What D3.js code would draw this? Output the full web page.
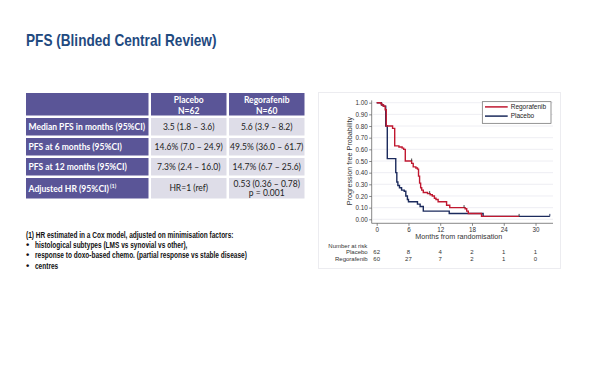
<!DOCTYPE html>
<html>
<head>
<meta charset="utf-8">
<script src="https://cdn.jsdelivr.net/npm/d3@7"></script>
<style>
  body { margin: 0; background: #fff; }
  svg { display: block; }
</style>
</head>
<body>
<svg id="slide" width="600" height="365"></svg>
<script>
// Table content
const tableHeader = [['', ''], ['Placebo', 'N=62'], ['Regorafenib', 'N=60']];
const rowLabels = ['Median PFS in months (95%CI)', 'PFS at 6 months (95%CI)', 'PFS at 12 months (95%CI)', 'Adjusted HR (95%CI)'];
const placeboCells = [['3.5 (1.8 – 3.6)'], ['14.6% (7.0 – 24.9)'], ['7.3% (2.4 – 16.0)'], ['HR=1 (ref)']];
const regoCells = [['5.6 (3.9 – 8.2)'], ['49.5% (36.0 – 61.7)'], ['14.7% (6.7 – 25.6)'], ['0.53 (0.36 – 0.78)', 'p = 0.001']];

// Footnote
const footnotes = [
  '(1) HR estimated in a Cox model, adjusted on minimisation factors:',
  'histological subtypes (LMS vs synovial vs other),',
  'response to doxo-based chemo. (partial response vs stable disease)',
  'centres',
];

// Kaplan-Meier steps [month, survival]
const regorafenib = [
  [0, 1.00], [0.8, 0.99], [1.0, 0.98], [1.3, 0.97], [1.6, 0.94], [1.8, 0.80], [3.0, 0.78],
  [3.4, 0.63], [4.2, 0.62], [4.8, 0.61], [5.1, 0.60], [5.4, 0.50], [6.6, 0.48], [6.9, 0.45],
  [7.4, 0.44], [7.7, 0.43], [7.9, 0.37], [8.1, 0.31], [8.3, 0.27], [8.5, 0.25], [8.8, 0.23],
  [9.6, 0.22], [10.1, 0.21], [10.5, 0.20], [10.9, 0.18], [11.2, 0.17], [11.6, 0.15],
  [13.2, 0.12], [13.8, 0.10], [16.7, 0.09], [17.0, 0.07], [17.3, 0.05], [19.8, 0.025], [26.9, 0.025],
];
const placebo = [
  [0, 1.00], [0.9, 0.98], [1.25, 0.97], [1.7, 0.80], [2.0, 0.52], [3.6, 0.40], [3.8, 0.32],
  [4.0, 0.29], [4.3, 0.27], [4.7, 0.25], [5.2, 0.24], [5.5, 0.20], [5.8, 0.17], [6.0, 0.15],
  [7.7, 0.13], [8.2, 0.11], [8.8, 0.07], [13.7, 0.05], [20.1, 0.025], [32.7, 0.025],
];
const regoCensored = [[6.6, 0.50], [10.0, 0.22], [16.5, 0.10], [26.9, 0.025]];
const placeboCensored = [[32.7, 0.025]];

// Axes and risk table
const monthTicks = [0, 6, 12, 18, 24, 30];
const probTicks = [0, 0.1, 0.2, 0.3, 0.4, 0.5, 0.6, 0.7, 0.8, 0.9, 1.0];
const atRiskPlacebo = [62, 8, 4, 2, 1, 1];
const atRiskRego = [60, 27, 7, 2, 1, 0];

const RED = '#c01830';
const NAVY = '#1b2a5c';
const PURPLE = '#5a5597';
const CELL = '#dedde8';

const svg = d3.select('#slide');

// Squeeze a text horizontally (stand-in for a condensed face)
function squeeze(sel, k) {
  const w = sel.node().getComputedTextLength();
  sel.attr('textLength', w * k).attr('lengthAdjust', 'spacingAndGlyphs');
  return w * k;
}

const narrowFont = '"Liberation Sans", Arial, sans-serif';

// Title
squeeze(svg.append('text')
  .attr('x', 26).attr('y', 46)
  .style('font-family', narrowFont)
  .style('font-weight', 'bold').style('font-size', '17px')
  .attr('fill', '#1f4a80')
  .text('PFS (Blinded Central Review)'), 0.8);

// ---- Table ----
const colX = [26, 151, 229];
const colW = [124, 77, 77];
const rowY = [93, 118, 138, 158, 178];
const rowH = [24, 19, 19, 19, 22];
const tableFont = 'Lato, "Open Sans", sans-serif';
const tk = 0.945;

const table = svg.append('g');
rowY.forEach(function(y, r) {
  colX.forEach(function(x, c) {
    const isDark = r === 0 || c === 0;
    table.append('rect')
      .attr('x', x).attr('y', y)
      .attr('width', colW[c] - 1.5).attr('height', rowH[r] - 1.5)
      .attr('fill', isDark ? PURPLE : CELL);
  });
});

// Header text
tableHeader.forEach(function(lines, c) {
  lines.forEach(function(t, i) {
    if (!t) return;
    squeeze(table.append('text')
      .attr('x', colX[c] + (colW[c] - 1.5) / 2)
      .attr('y', rowY[0] + 10 + i * 10.5)
      .attr('text-anchor', 'middle')
      .style('font-family', tableFont).style('font-weight', 'bold').style('font-size', '9px')
      .attr('fill', '#fff')
      .text(t), tk);
  });
});

// Row labels
rowLabels.forEach(function(t, r) {
  const label = table.append('text')
    .attr('x', 28.5)
    .attr('y', rowY[r + 1] + rowH[r + 1] / 2 + 2.5)
    .style('font-family', tableFont).style('font-weight', 'bold').style('font-size', '9px')
    .attr('fill', '#fff')
    .text(t);
  if (r === 3) {
    label.style('font-size', '8.6px');
    label.append('tspan').attr('dx', 1).attr('dy', -3.5).style('font-size', '5.5px').text('(1)');
  } else {
    squeeze(label, tk);
  }
});

// Data cells
[placeboCells, regoCells].forEach(function(col, ci) {
  const c = ci + 1;
  col.forEach(function(lines, r) {
    const cy = rowY[r + 1] + (rowH[r + 1] - 1.5) / 2;
    lines.forEach(function(t, i) {
      squeeze(table.append('text')
        .attr('x', colX[c] + (colW[c] - 1.5) / 2)
        .attr('y', cy + 3 + (i - (lines.length - 1) / 2) * 9.5)
        .attr('text-anchor', 'middle')
        .style('font-family', tableFont).style('font-size', '9px')
        .attr('fill', '#222')
        .text(t), tk);
    });
  });
});

// ---- Footnote ----
const foot = svg.append('g')
  .style('font-family', narrowFont)
  .style('font-weight', 'bold').style('font-size', '9.4px')
  .attr('fill', '#111');
footnotes.forEach(function(t, i) {
  const y = 237.8 + i * 10.3;
  if (i === 0) {
    squeeze(foot.append('text').attr('x', 26).attr('y', y).text(t), 0.695);
  } else {
    foot.append('text').attr('x', 26).attr('y', y).text('•');
    squeeze(foot.append('text').attr('x', 35).attr('y', y).text(t), 0.695);
  }
});

// ---- KM chart ----
const chartFont = '"Liberation Sans", Arial, sans-serif';
const chart = svg.append('g').style('font-family', chartFont);

// Outer frame
chart.append('rect')
  .attr('x', 318.5).attr('y', 92.5).attr('width', 242).attr('height', 176)
  .attr('fill', 'none').attr('stroke', '#ececf0').attr('stroke-width', 1);

const x = d3.scaleLinear().domain([0, 33.3]).range([376.7, 553]);
const y = d3.scaleLinear().domain([0, 1]).range([219.3, 102.7]);

// Grid lines
chart.append('g').selectAll('line')
  .data(probTicks)
  .join('line')
  .attr('x1', 373).attr('x2', 553)
  .attr('y1', function(d) { return y(d); })
  .attr('y2', function(d) { return y(d); })
  .attr('stroke', '#eaeaf0').attr('stroke-width', 0.8);

// Y axis
const yAxis = chart.append('g')
  .attr('transform', 'translate(371.7,0)')
  .call(d3.axisLeft(y).tickValues(probTicks).tickFormat(d3.format('.2f')).tickSize(2.5).tickPadding(1.5));
yAxis.select('.domain').attr('d', 'M0,' + y(1.02) + 'V223.3');

// X axis
const xAxis = chart.append('g')
  .attr('transform', 'translate(0,223.3)')
  .call(d3.axisBottom(x).tickValues(monthTicks).tickSize(2.5).tickPadding(2));
xAxis.select('.domain').attr('d', 'M371.7,0H553');

[yAxis, xAxis].forEach(function(ax) {
  ax.selectAll('.domain').attr('stroke', '#555').attr('stroke-width', 0.7);
  ax.selectAll('.tick line').attr('stroke', '#555').attr('stroke-width', 0.7);
  ax.selectAll('.tick text')
    .style('font-family', chartFont).style('font-size', '6.3px').attr('fill', '#333');
});

// Axis titles
chart.append('text')
  .attr('transform', 'translate(352,161) rotate(-90)')
  .attr('text-anchor', 'middle')
  .style('font-size', '7.2px').attr('fill', '#333')
  .text('Progression free Probability');
chart.append('text')
  .attr('x', x(15.5)).attr('y', 239)
  .attr('text-anchor', 'middle')
  .style('font-size', '7.2px').attr('fill', '#333')
  .text('Months from randomisation');

// Curves
const line = d3.line()
  .x(function(d) { return x(d[0]); })
  .y(function(d) { return y(d[1]); })
  .curve(d3.curveStepAfter);

chart.append('path').datum(placebo)
  .attr('d', line).attr('fill', 'none').attr('stroke', NAVY).attr('stroke-width', 1.4);
chart.append('path').datum(regorafenib)
  .attr('d', line).attr('fill', 'none').attr('stroke', RED).attr('stroke-width', 1.4);

// Censor marks
[[regoCensored, '#333'], [placeboCensored, NAVY]].forEach(function(pair) {
  chart.append('g').selectAll('line')
    .data(pair[0])
    .join('line')
    .attr('x1', function(d) { return x(d[0]); })
    .attr('x2', function(d) { return x(d[0]); })
    .attr('y1', function(d) { return y(d[1]) - 2.5; })
    .attr('y2', function(d) { return y(d[1]); })
    .attr('stroke', pair[1]).attr('stroke-width', 0.9);
});

// Legend
const legend = chart.append('g');
legend.append('rect')
  .attr('x', 482.3).attr('y', 101.7).attr('width', 68.7).attr('height', 21.6)
  .attr('fill', '#fff').attr('stroke', '#666').attr('stroke-width', 0.7);
[['Regorafenib', RED], ['Placebo', NAVY]].forEach(function(d, i) {
  const ly = 106.9 + i * 9.2;
  legend.append('line')
    .attr('x1', 485).attr('x2', 507.7).attr('y1', ly).attr('y2', ly)
    .attr('stroke', d[1]).attr('stroke-width', 1.5);
  legend.append('text')
    .attr('x', 510.7).attr('y', ly + 2.3)
    .style('font-size', '6.5px').attr('fill', '#222')
    .text(d[0]);
});

// Number at risk
const risk = chart.append('g').style('font-size', '6px').attr('fill', '#333');
risk.append('text').attr('x', 328.3).attr('y', 247.6).text('Number at risk');
[['Placebo', atRiskPlacebo], ['Regorafenib', atRiskRego]].forEach(function(d, i) {
  const ry = 254.4 + i * 7;
  risk.append('text').attr('x', 367.7).attr('y', ry).attr('text-anchor', 'end').text(d[0]);
  risk.selectAll(null)
    .data(d[1])
    .join('text')
    .attr('x', function(v, k) { return x(monthTicks[k]); })
    .attr('y', ry)
    .attr('text-anchor', 'middle')
    .text(function(v) { return v; });
});
</script>
</body>
</html>
